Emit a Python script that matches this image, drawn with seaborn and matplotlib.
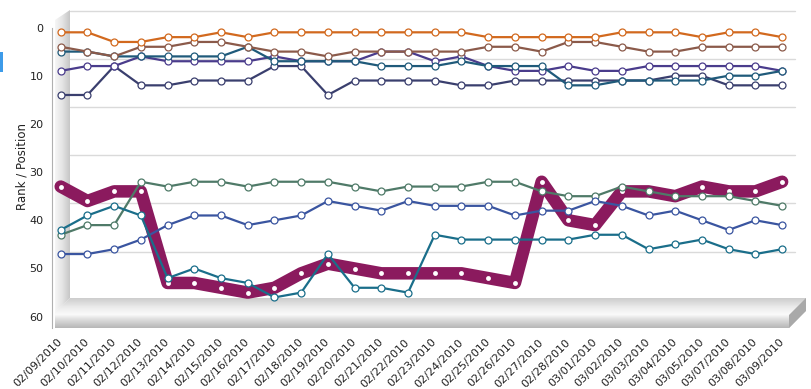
import numpy as np
import pandas as pd
import seaborn as sns
import matplotlib.pyplot as plt
from matplotlib.patches import Polygon, Rectangle
from matplotlib.colors import LinearSegmentedColormap

# %%
dates = ["02/09/2010", "02/10/2010", "02/11/2010", "02/12/2010", "02/13/2010",
         "02/14/2010", "02/15/2010", "02/16/2010", "02/17/2010", "02/18/2010",
         "02/19/2010", "02/20/2010", "02/21/2010", "02/22/2010", "02/23/2010",
         "02/24/2010", "02/25/2010", "02/26/2010", "02/27/2010", "02/28/2010",
         "03/01/2010", "03/02/2010", "03/03/2010", "03/04/2010", "03/05/2010",
         "03/07/2010", "03/08/2010", "03/09/2010"]

rank_orange = [1, 1, 3, 3, 2, 2, 1, 2, 1, 1, 1, 1, 1, 1, 1, 1, 2, 2, 2, 2, 2, 1, 1, 1, 2, 1, 1, 2]
rank_brown = [4, 5, 6, 4, 4, 3, 3, 4, 5, 5, 6, 5, 5, 5, 5, 5, 4, 4, 5, 3, 3, 4, 5, 5, 4, 4, 4, 4]
rank_teal_top = [5, 5, 6, 6, 6, 6, 6, 4, 7, 7, 7, 7, 8, 8, 8, 7, 8, 8, 8, 12, 12, 11, 11, 11, 11, 10, 10, 9]
rank_purple = [9, 8, 8, 6, 7, 7, 7, 7, 6, 7, 7, 7, 5, 5, 7, 6, 8, 9, 9, 8, 9, 9, 8, 8, 8, 8, 8, 9]
rank_navy = [14, 14, 8, 12, 12, 11, 11, 11, 8, 8, 14, 11, 11, 11, 11, 12, 12, 11, 11, 11, 11, 11, 11, 10, 10, 12, 12, 12]
rank_green = [43, 41, 41, 32, 33, 32, 32, 33, 32, 32, 32, 33, 34, 33, 33, 33, 32, 32, 34, 35, 35, 33, 34, 35, 35, 35, 36, 37]
rank_blue = [47, 47, 46, 44, 41, 39, 39, 41, 40, 39, 36, 37, 38, 36, 37, 37, 37, 39, 38, 38, 36, 37, 39, 38, 40, 42, 40, 41]
rank_teal_low = [42, 39, 37, 39, 52, 50, 52, 53, 56, 55, 47, 54, 54, 55, 43, 44, 44, 44, 44, 44, 43, 43, 46, 45, 44, 46, 47, 46]
rank_main = [33, 36, 34, 34, 53, 53, 54, 55, 54, 51, 49, 50, 51, 51, 51, 51, 52, 53, 32, 40, 41, 34, 34, 35, 33, 34, 34, 32]

thin_series = [
    (rank_green, "#4f7a68"),
    (rank_blue, "#3a55a0"),
    (rank_teal_low, "#1a6e8a"),
    (rank_navy, "#3a3f6e"),
    (rank_purple, "#4a3c8c"),
    (rank_teal_top, "#1f5a7a"),
    (rank_brown, "#8b5a4a"),
    (rank_orange, "#d2691e"),
]

# %%
sns.set_style("white")
plt.rcParams["font.family"] = ["DejaVu Sans"]

fig = plt.figure(figsize=(8.11, 3.89), dpi=100)

# background decorations in pixel coords
bg = fig.add_axes([0, 0, 1, 1])
bg.set_xlim(0, 811)
bg.set_ylim(389, 0)
bg.axis("off")

for gy in [11, 59, 107, 155, 203, 252]:
    bg.plot([70, 795], [gy, gy], color="#dadada", lw=1, zorder=1)

wall = Polygon([(55, 20), (70, 10), (70, 298), (55, 312)], closed=True,
               facecolor="none", edgecolor="none")
bg.add_patch(wall)
wall_cmap = LinearSegmentedColormap.from_list("w", ["#f6f6f6", "#e4e4e4", "#c6c6c6"])
im = bg.imshow(np.linspace(0, 1, 64)[None, :], cmap=wall_cmap, aspect="auto",
               extent=(55, 70, 312, 10), zorder=2)
im.set_clip_path(wall)

floor = Polygon([(55, 312), (70, 298), (806, 298), (806, 311), (789, 328), (55, 328)],
                closed=True, facecolor="none", edgecolor="none")
bg.add_patch(floor)
floor_cmap = LinearSegmentedColormap.from_list(
    "f", [(0, "#cdcdcd"), (0.3, "#ebebeb"), (0.55, "#fbfbfb"), (0.7, "#e0e0e0"), (1, "#b7b7b7")])
im2 = bg.imshow(np.linspace(0, 1, 64)[:, None], cmap=floor_cmap, aspect="auto",
                extent=(55, 806, 328, 298), zorder=2)
im2.set_clip_path(floor)
side = Polygon([(806, 298), (806, 311), (789, 328), (789, 315)], closed=True,
               facecolor="#a9a9a9", edgecolor="none", zorder=3)
bg.add_patch(side)

bg.add_patch(Rectangle((0, 52), 3, 20, facecolor="#3d9be9", edgecolor="none"))

# %%
ax = fig.add_axes([52 / 811, (389 - 328) / 389, (800 - 52) / 811, 323 / 389])
ax.patch.set_alpha(0)
x = np.arange(len(dates))

sns.lineplot(x=x, y=rank_main, ax=ax, color="#8b1a5e", lw=9, marker="o",
             markersize=3.5, markerfacecolor="white", markeredgewidth=0,
             solid_joinstyle="round", solid_capstyle="round", zorder=3)
for vals, col in thin_series:
    sns.lineplot(x=x, y=vals, ax=ax, color=col, lw=1.6, marker="o", markersize=5,
                 markerfacecolor="white", markeredgecolor=col, markeredgewidth=0.9,
                 solid_joinstyle="round", zorder=4)

ax.set_xlim((52 - 60.7) / 26.72, (800 - 60.7) / 26.72)
ax.set_ylim((328 - 27.5) / 4.82, (5 - 27.5) / 4.82)
ax.set_yticks(range(0, 61, 10))
ax.set_xticks(x)
ax.set_xticklabels(dates, rotation=45, ha="right", va="center", rotation_mode="anchor")
for s in ["top", "right", "bottom"]:
    ax.spines[s].set_visible(False)
ax.spines["left"].set_color("#b0b0b0")
ax.spines["left"].set_bounds(0, 62.3)
ax.tick_params(axis="both", direction="out", length=4, width=1, color="#b0b0b0",
               labelsize=8, labelcolor="#222222", pad=2)
ax.tick_params(axis="x", pad=5)
ax.set_xlabel("")
ax.set_ylabel("Rank / Position", fontsize=8.5, color="#222222", labelpad=1)
ax.grid(False)

fig.savefig("out.png", dpi=100)
